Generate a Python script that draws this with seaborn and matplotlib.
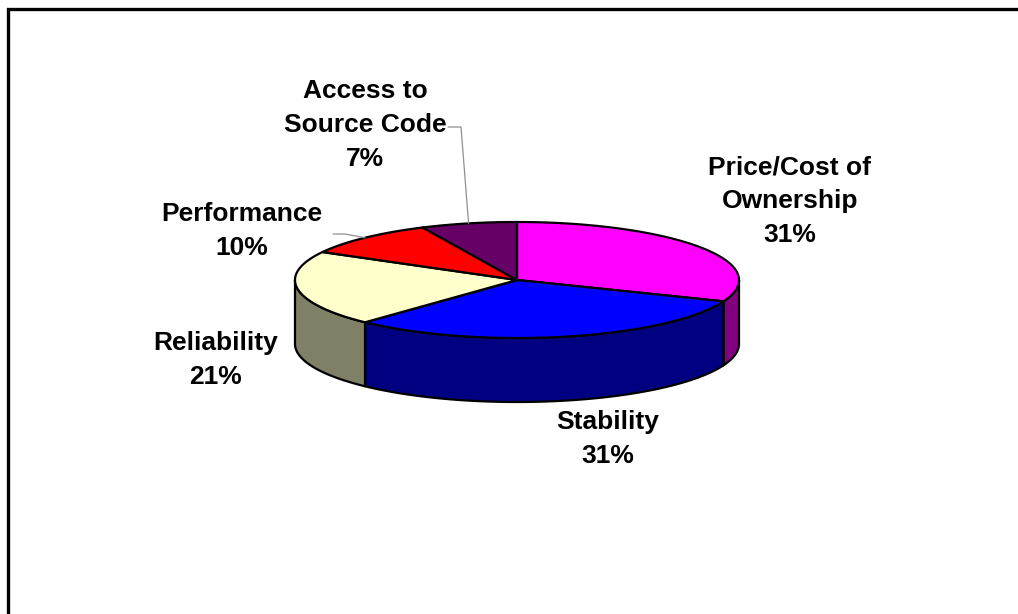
import numpy as np
import matplotlib.pyplot as plt
import seaborn as sns

# slice data, clockwise from 12 o'clock
labels = ['Price/Cost of\nOwnership', 'Stability', 'Reliability', 'Performance', 'Access to\nSource Code']
shares = [31, 31, 21, 10, 7]
top_colors = ['#FF00FF', '#0000FF', '#FFFFCC', '#FF0000', '#660066']
side_colors = ['#800080', '#000080', '#808066', '#800000', '#330033']

# label block centres (pixels) and leader line starts
label_pos = [(790, 201), (608, 439), (216, 360), (242, 231), (365, 125)]
leader_start = {3: [(333, 234), (345, 234)], 4: [(448, 127), (461, 127)]}

sns.set_theme(style='white')
plt.rcParams['font.family'] = ['Liberation Sans', 'DejaVu Sans']

fig = plt.figure(figsize=(10.18, 6.14), dpi=100)
ax = fig.add_axes([0, 0, 1, 1])
ax.set_xlim(0, 1018)
ax.set_ylim(614, 0)
ax.axis('off')

cx, cy, a, b, depth = 517, 280, 222, 58, 64


def ellipse(theta, dy=0):
    return cx + a * np.sin(theta), cy - b * np.cos(theta) + dy


bounds = np.concatenate([[0], np.cumsum(shares)]) / sum(shares) * 2 * np.pi

# outer walls, only the front half is visible
for i in range(len(shares)):
    lo = max(bounds[i], np.pi / 2)
    hi = min(bounds[i + 1], 3 * np.pi / 2)
    if hi <= lo:
        continue
    t = np.linspace(lo, hi, 120)
    xt, yt = ellipse(t)
    xb, yb = ellipse(t[::-1], depth)
    ax.fill(np.r_[xt, xb], np.r_[yt, yb], facecolor=side_colors[i],
            edgecolor='black', linewidth=1.6, joinstyle='round')

# top faces
for i in range(len(shares)):
    t = np.linspace(bounds[i], bounds[i + 1], 120)
    xt, yt = ellipse(t)
    ax.fill(np.r_[cx, xt], np.r_[cy, yt], facecolor=top_colors[i],
            edgecolor='black', linewidth=1.6, joinstyle='round')

# labels and leader lines
for i, (lab, share) in enumerate(zip(labels, shares)):
    x, y = label_pos[i]
    ax.text(x, y, f'{lab}\n{share}%', ha='center', va='center', fontsize=19,
            fontweight='bold', color='black', linespacing=1.5)
    if i in leader_start:
        mid = (bounds[i] + bounds[i + 1]) / 2
        ex, ey = ellipse(mid)
        pts = leader_start[i] + [(ex, ey)]
        ax.plot([p[0] for p in pts], [p[1] for p in pts], color='#909090', linewidth=0.9)

# chart area frame (left and top edges)
ax.plot([8, 8, 1018], [614, 9, 9], color='black', linewidth=2.4, solid_joinstyle='miter')

fig.savefig('out.png', dpi=100)
